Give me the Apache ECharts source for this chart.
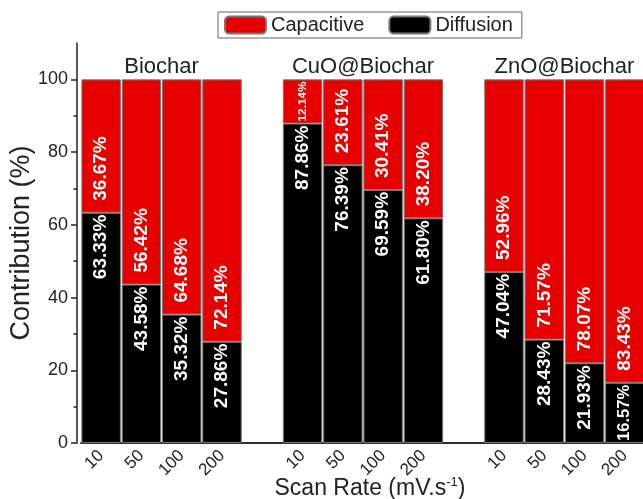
<!DOCTYPE html>
<html>
<head>
<meta charset="utf-8">
<script src="https://cdn.jsdelivr.net/npm/echarts@6/dist/echarts.min.js"></script>
<style>
  html, body { margin: 0; padding: 0; background: #fff; }
  #chart { width: 643px; height: 499px; }
</style>
</head>
<body>
<div id="chart"></div>
<script>
const groups = ["Biochar", "CuO@Biochar", "ZnO@Biochar"];
const scanRates = ["10", "50", "100", "200"];

const diffusion = {
  "Biochar": [63.33, 43.58, 35.32, 27.86],
  "CuO@Biochar": [87.86, 76.39, 69.59, 61.80],
  "ZnO@Biochar": [47.04, 28.43, 21.93, 16.57],
};
const capacitive = {
  "Biochar": [36.67, 56.42, 64.68, 72.14],
  "CuO@Biochar": [12.14, 23.61, 30.41, 38.20],
  "ZnO@Biochar": [52.96, 71.57, 78.07, 83.43],
};
const yTicks = [0, 20, 40, 60, 80, 100];
const yMinorTicks = [10, 30, 50, 70, 90];

const RED = "#e60000";
const INK = "#222";
const FONT = "Liberation Sans, Arial, sans-serif";

// plot frame (px) and value range
const PLOT_TOP = 43;
const PLOT_BOTTOM = 443;
const Y_MAX = 110;
const pxPerUnit = (PLOT_BOTTOM - PLOT_TOP) / Y_MAX;

// categories: 4 rates per group, an empty slot between groups
const cats = [];
const diffData = [];
const capData = [];
groups.forEach((g, gi) => {
  if (gi > 0) {
    cats.push("gap" + gi);
    diffData.push("-");
    capData.push("-");
  }
  scanRates.forEach((r, ri) => {
    cats.push(g + "|" + r);
    diffData.push(diffusion[g][ri]);
    capData.push(capacitive[g][ri]);
  });
});

const LABEL_EM = 3.39; // length of "xx.xx%" in em, bold
function fitLabel(v, dist) {
  const seg = v * pxPerUnit;
  let size = 19;
  let d = dist;
  if (LABEL_EM * size + dist + 4 > seg) {
    size = Math.min(19, (seg - 4) / LABEL_EM);
    d = 2;
  }
  return { fontSize: size, distance: d };
}

function withLabels(arr, dist) {
  return arr.map(v => {
    if (v === "-") return v;
    return { value: v, label: fitLabel(v, dist) };
  });
}

const labelBase = {
  show: true,
  rotate: 90,
  verticalAlign: "middle",
  color: "#fff",
  fontWeight: "bold",
  fontFamily: FONT,
  formatter: p => p.value.toFixed(2) + "%",
};

const options = {
  backgroundColor: "#fff",
  animation: false,
  legend: {
    data: ["Capacitive", "Diffusion"],
    left: 218,
    top: 12,
    itemWidth: 41,
    itemHeight: 17,
    itemGap: 24,
    padding: [3, 9, 3, 6],
    borderColor: "#666",
    borderWidth: 1,
    textStyle: { fontFamily: FONT, fontSize: 20, color: INK },
  },
  grid: {
    left: 81,
    top: PLOT_TOP,
    width: 564,
    height: PLOT_BOTTOM - PLOT_TOP,
    outerBoundsMode: "none",
  },
  xAxis: [
    {
      type: "category",
      data: cats,
      axisLine: { lineStyle: { color: INK, width: 1.5 } },
      axisTick: { show: false },
      axisLabel: {
        interval: 0,
        rotate: 45,
        margin: 10,
        fontFamily: FONT,
        fontSize: 17,
        color: INK,
        padding: [0, 0, 0, 0],
        formatter: v => (v.indexOf("|") >= 0 ? v.split("|")[1] : ""),
      },
      name: "Scan Rate (mV.s{sup|-1})",
      nameLocation: "middle",
      nameGap: 33,
      nameMoveOverlap: false,
      nameTextStyle: {
        fontFamily: FONT,
        fontSize: 23,
        color: INK,
        padding: [0, 0, 0, 14],
        rich: {
          sup: { fontFamily: FONT, fontSize: 13, color: INK, padding: [0, 0, 12, 0] },
        },
      },
    },
    {
      type: "category",
      data: cats,
      position: "top",
      axisLine: { lineStyle: { color: INK, width: 1.5 } },
      axisTick: { show: false },
      axisLabel: { show: false },
    },
  ],
  yAxis: [
    {
      type: "value",
      position: "left",
      offset: 4,
      min: 0,
      max: Y_MAX,
      interval: 20,
      splitLine: { show: false },
      axisLine: { show: true, lineStyle: { color: INK, width: 1.5 } },
      axisTick: { show: true, length: 6, customValues: yTicks, lineStyle: { color: INK, width: 1.5 } },
      axisLabel: {
        customValues: yTicks,
        fontFamily: FONT,
        fontSize: 18,
        color: INK,
        margin: 9,
      },
      name: "Contribution (%)",
      nameLocation: "middle",
      nameGap: 42,
      nameMoveOverlap: false,
      nameTextStyle: { fontFamily: FONT, fontSize: 27, color: INK },
    },
    {
      type: "value",
      position: "left",
      offset: 4,
      min: 0,
      max: Y_MAX,
      splitLine: { show: false },
      axisLine: { show: false },
      axisLabel: { show: false },
      axisTick: { show: true, length: 3.5, customValues: yMinorTicks, lineStyle: { color: INK, width: 1.5 } },
    },
  ],
  series: [
    {
      name: "Diffusion",
      type: "bar",
      stack: "total",
      barCategoryGap: "2%",
      data: withLabels(diffData, 2),
      itemStyle: { color: "#000", borderColor: "#777", borderWidth: 1 },
      label: Object.assign({}, labelBase, { position: "insideTop", align: "right" }),
    },
    {
      name: "Capacitive",
      type: "bar",
      stack: "total",
      barCategoryGap: "2%",
      data: withLabels(capData, 12),
      itemStyle: { color: RED, borderColor: "#777", borderWidth: 1 },
      label: Object.assign({}, labelBase, { position: "insideBottom", align: "left" }),
    },
  ],
};

const chart = echarts.init(document.getElementById("chart"));
chart.setOption(options);

// group titles centred over each group of bars
const titles = groups.map((g, gi) => {
  const a = chart.convertToPixel({ xAxisIndex: 0 }, g + "|" + scanRates[1]);
  const b = chart.convertToPixel({ xAxisIndex: 0 }, g + "|" + scanRates[2]);
  return {
    type: "text",
    x: (a + b) / 2,
    y: 67,
    style: {
      text: g,
      fontFamily: FONT,
      fontSize: 22,
      fill: INK,
      align: "center",
      verticalAlign: "middle",
    },
  };
});
chart.setOption({ graphic: titles });
</script>
</body>
</html>
